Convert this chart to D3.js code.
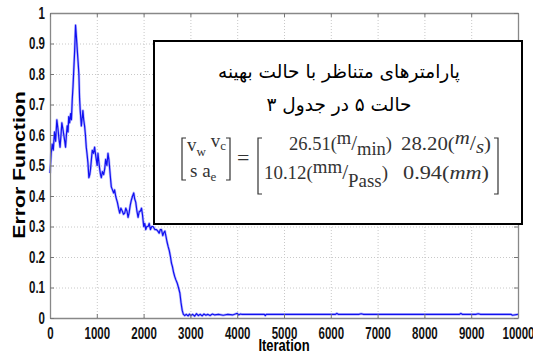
<!DOCTYPE html>
<html>
<head>
<meta charset="utf-8">
<script src="https://cdn.jsdelivr.net/npm/d3@7"></script>
<style>
body { margin: 0; background: #fff; }
svg { display: block; }
.tick text { font-family: "Liberation Sans", Arial, sans-serif; font-weight: bold; font-size: 11.5px; fill: #111; }
.grid line { stroke: #c8c8c8; stroke-dasharray: 1,2; }
.grid path { display: none; }
</style>
</head>
<body>
<div id="chart"></div>
<script>
var W = 533, H = 355;
var margin = { top: 13, right: 15, bottom: 37, left: 50 };

// error function samples
var iterations = [0, 25, 47, 70, 96, 120, 146, 170, 190, 215, 235, 253, 275, 295, 315, 332, 350, 368, 385, 400, 420, 440, 458, 475, 492, 510, 528, 546, 565, 582, 600, 617, 632, 646, 670, 690, 703, 720, 739, 757, 775, 790, 810, 831, 850, 867, 885, 903, 930, 953, 970, 989, 1008, 1025, 1045, 1060, 1080, 1096, 1120, 1146, 1170, 1189, 1215, 1239, 1258, 1275, 1292, 1310, 1335, 1360, 1380, 1403, 1420, 1439, 1465, 1489, 1515, 1546, 1570, 1596, 1620, 1646, 1668, 1689, 1715, 1739, 1765, 1789, 1810, 1832, 1858, 1882, 1908, 1932, 1955, 1975, 2003, 2025, 2046, 2070, 2096, 2120, 2146, 2175, 2203, 2240, 2275, 2305, 2332, 2358, 2382, 2410, 2432, 2455, 2475, 2500, 2525, 2550, 2575, 2595, 2617, 2640, 2667, 2690, 2717, 2745, 2775, 2800, 2825, 2850,
  2880, 2910, 2950, 2980, 3010, 3050, 3090, 3130, 3170, 3210, 3250, 3290, 3330, 3370, 3420, 3470, 3520, 3600, 3700, 3800, 3900, 3960, 4000, 4030, 4070, 4100, 4580, 4600, 4620, 5000, 6100, 6130, 6160, 6600, 6650, 6700, 7000, 8000, 8750, 8780, 8810, 9100, 9150, 9200, 9850, 9880, 10000];
var errorValues = [0.475, 0.54, 0.57, 0.55, 0.61, 0.58, 0.65, 0.62, 0.59, 0.56, 0.60, 0.64, 0.62, 0.60, 0.58, 0.56, 0.60, 0.63, 0.61, 0.66, 0.64, 0.67, 0.65, 0.715, 0.76, 0.82, 0.88, 0.96, 0.92, 0.88, 0.84, 0.80, 0.72, 0.68, 0.63, 0.66, 0.68, 0.65, 0.63, 0.60, 0.56, 0.54, 0.51, 0.46, 0.47, 0.49, 0.52, 0.55, 0.54, 0.56, 0.54, 0.52, 0.50, 0.54, 0.51, 0.49, 0.47, 0.46, 0.48, 0.47, 0.49, 0.52, 0.50, 0.54, 0.52, 0.49, 0.46, 0.43, 0.42, 0.41, 0.42, 0.40, 0.39, 0.38, 0.36, 0.344, 0.36, 0.35, 0.34, 0.344, 0.36, 0.35, 0.33, 0.344, 0.37, 0.387, 0.40, 0.41, 0.39, 0.38, 0.35, 0.33, 0.35, 0.35, 0.36, 0.34, 0.30, 0.31, 0.29, 0.30, 0.30, 0.31, 0.29, 0.30, 0.30, 0.29, 0.29, 0.285, 0.278, 0.29, 0.29, 0.27, 0.28, 0.285, 0.27, 0.25, 0.234, 0.22, 0.20, 0.18, 0.168, 0.15, 0.135, 0.125, 0.115, 0.10, 0.082, 0.05, 0.025, 0.012,
  0.008, 0.012, 0.007, 0.013, 0.008, 0.012, 0.006, 0.014, 0.008, 0.012, 0.007, 0.013, 0.009, 0.012, 0.008, 0.013, 0.010, 0.012, 0.009, 0.012, 0.010, 0.013, 0.015, 0.010, 0.013, 0.012, 0.012, 0.008, 0.012, 0.012, 0.012, 0.015, 0.012, 0.012, 0.014, 0.012, 0.012, 0.012, 0.012, 0.015, 0.012, 0.012, 0.014, 0.012, 0.012, 0.009, 0.012];

var xTicks = [0, 1000, 2000, 3000, 4000, 5000, 6000, 7000, 8000, 9000, 10000];
var yTicks = [0, 0.1, 0.2, 0.3, 0.4, 0.5, 0.6, 0.7, 0.8, 0.9, 1];

var titleLine1 = "پارامترهای متناظر با حالت بهینه";
var titleLine2 = "حالت ۵ در جدول ۳";

var width = W - margin.left - margin.right,
    height = H - margin.top - margin.bottom;

var svg = d3.select("#chart").append("svg")
    .attr("width", W)
    .attr("height", H);

var g = svg.append("g")
    .attr("transform", "translate(" + margin.left + "," + margin.top + ")");

var x = d3.scaleLinear().domain([0, 10000]).range([0, width]);
var y = d3.scaleLinear().domain([0, 1]).range([height, 0]);

// dotted grid
g.append("g").attr("class", "grid")
    .attr("transform", "translate(0," + height + ")")
    .call(d3.axisBottom(x).tickValues(xTicks).tickSize(-height).tickFormat(""));
g.append("g").attr("class", "grid")
    .call(d3.axisLeft(y).tickValues(yTicks).tickSize(-width).tickFormat(""));

// the curve
var data = iterations.map(function(d, i) { return { it: d, v: errorValues[i] }; });
var line = d3.line()
    .x(function(d) { return x(d.it); })
    .y(function(d) { return y(d.v); });

g.append("path")
    .datum(data)
    .attr("fill", "none")
    .attr("stroke", "#8a8aff")
    .attr("stroke-width", 2.6)
    .attr("stroke-linejoin", "round")
    .attr("opacity", 0.6)
    .attr("d", line);
g.append("path")
    .datum(data)
    .attr("fill", "none")
    .attr("stroke", "#1010f0")
    .attr("stroke-width", 1.2)
    .attr("stroke-linejoin", "round")
    .attr("d", line);

// axes, matlab style (ticks inward)
function styleAxis(sel) {
    sel.select(".domain").attr("stroke", "#888").attr("stroke-width", 1.3);
    sel.selectAll(".tick line").attr("stroke", "#777");
}

var xAxis = g.append("g")
    .attr("transform", "translate(0," + height + ")")
    .call(d3.axisBottom(x).tickValues(xTicks).tickSizeInner(-4).tickSizeOuter(0).tickPadding(6).tickFormat(d3.format("d")));
xAxis.call(styleAxis);
xAxis.selectAll("text").attr("transform", "scale(1,1.4)").attr("y", 6.5);

var yAxis = g.append("g")
    .call(d3.axisLeft(y).tickValues(yTicks).tickSizeInner(-4).tickSizeOuter(0).tickPadding(5)
        .tickFormat(function(d) { return d === 0 || d === 1 ? d3.format("d")(d) : d3.format(".1f")(d); }));
yAxis.call(styleAxis);
yAxis.selectAll("text").attr("transform", "scale(1,1.4)");

g.append("g").call(d3.axisTop(x).tickValues(xTicks).tickSizeInner(-4).tickSizeOuter(0).tickFormat(""))
    .call(styleAxis);
g.append("g").attr("transform", "translate(" + width + ",0)")
    .call(d3.axisRight(y).tickValues(yTicks).tickSizeInner(-4).tickSizeOuter(0).tickFormat(""))
    .call(styleAxis);

// axis titles
svg.append("text")
    .attr("transform", "translate(" + (margin.left + width / 2) + ",351) scale(1,1.2)")
    .attr("text-anchor", "middle")
    .attr("font-family", "Liberation Sans, Arial, sans-serif")
    .attr("font-weight", "bold")
    .attr("font-size", 13)
    .text("Iteration");

svg.append("text")
    .attr("transform", "translate(25,165) rotate(-90) scale(1.25,1)")
    .attr("text-anchor", "middle")
    .attr("font-family", "Liberation Sans, Arial, sans-serif")
    .attr("font-weight", "bold")
    .attr("font-size", 17)
    .text("Error Function");

// annotation box
var box = svg.append("g");
box.append("rect")
    .attr("x", 154).attr("y", 41)
    .attr("width", 368).attr("height", 183)
    .attr("fill", "#fff")
    .attr("stroke", "#000")
    .attr("stroke-width", 2);

box.append("text")
    .attr("x", 339).attr("y", 78)
    .attr("text-anchor", "middle")
    .attr("direction", "rtl")
    .attr("font-family", "DejaVu Sans, sans-serif")
    .attr("font-size", 18.5)
    .text(titleLine1);
box.append("text")
    .attr("x", 339).attr("y", 111)
    .attr("text-anchor", "middle")
    .attr("direction", "rtl")
    .attr("font-family", "DejaVu Sans, sans-serif")
    .attr("font-size", 18.5)
    .text(titleLine2);

var mathFont = "Liberation Serif, DejaVu Serif, serif";
var ink = "#333";

function bracket(x0, y0, y1, dir) {
    // dir 1 = opening, -1 = closing
    box.append("path")
        .attr("d", "M" + (x0 + 4 * dir) + "," + y0 + "H" + x0 + "V" + y1 + "H" + (x0 + 4 * dir))
        .attr("fill", "none")
        .attr("stroke", ink)
        .attr("stroke-width", 1.2);
}

function mtext(xp, yp, parts, base, len) {
    var t = box.append("text")
        .attr("x", xp).attr("y", yp)
        .attr("font-family", mathFont)
        .attr("font-size", base)
        .attr("fill", ink);
    if (len) t.attr("textLength", len).attr("lengthAdjust", "spacingAndGlyphs");
    parts.forEach(function(p) {
        t.append("tspan")
            .attr("dy", p.dy || 0)
            .attr("font-size", p.size || base)
            .attr("font-style", p.italic ? "italic" : null)
            .text(p.t);
    });
}

// left matrix
bracket(182, 138, 180, 1);
bracket(230, 138, 180, -1);
mtext(187, 151, [{ t: "v" }, { t: "w", size: 13, dy: 5 }, { t: " v", dy: -9 }, { t: "c", size: 13, dy: 3 }], 19);
mtext(190, 177, [{ t: "s  a" }, { t: "e", size: 13, dy: 4 }], 19);
mtext(237, 165, [{ t: "=" }], 22);

// right matrix
bracket(258, 138, 194, 1);
bracket(498, 138, 194, -1);
mtext(289, 150, [{ t: "26.51(" }, { t: "m", dy: -6 }, { t: "/", dy: 6, size: 21 }, { t: "min", dy: 5 }, { t: ")", dy: -5 }], 18.5);
mtext(401, 150, [{ t: "28.20(" }, { t: "m", italic: true, dy: -6 }, { t: "/", dy: 6, size: 21 }, { t: "s", italic: true, dy: 3 }, { t: ")", dy: -3 }], 19.5, 90);
mtext(264, 179, [{ t: "10.12(" }, { t: "mm", dy: -6 }, { t: "/", dy: 6, size: 21 }, { t: "Pass", dy: 8 }, { t: ")", dy: -8 }], 18.5, 124);
mtext(403, 179, [{ t: "0.94(" }, { t: "mm", italic: true }, { t: ")" }], 19.5, 86);
</script>
</body>
</html>
